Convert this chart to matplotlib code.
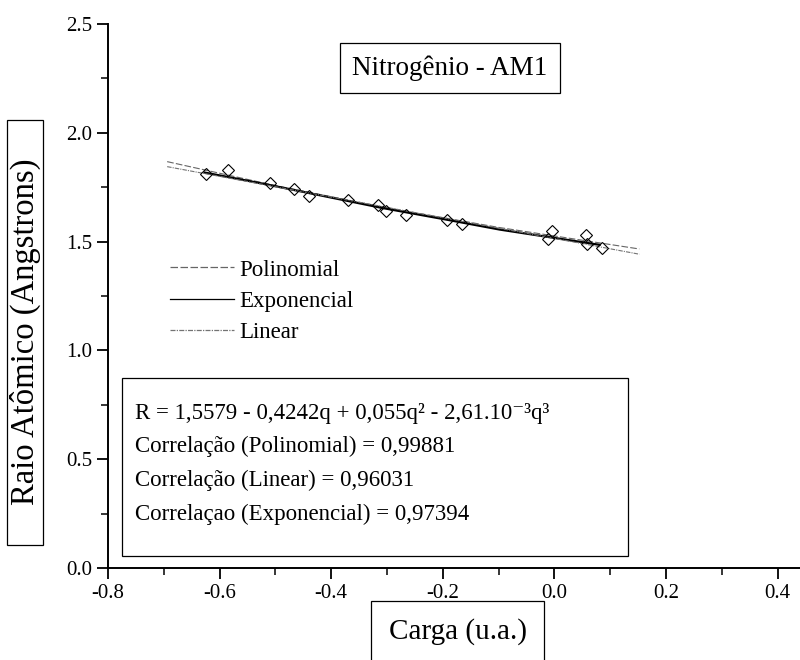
import numpy as np
import matplotlib.pyplot as plt
from matplotlib.ticker import MultipleLocator

plt.rcParams['font.family'] = ['Liberation Serif', 'DejaVu Serif']

# measured points (charge, atomic radius)
carga = [-0.624, -0.585, -0.510, -0.467, -0.440, -0.370, -0.317, -0.302,
         -0.266, -0.192, -0.165, -0.012, -0.005, 0.056, 0.058, 0.085]
raio = [1.81, 1.83, 1.77, 1.74, 1.71, 1.69, 1.67, 1.64,
        1.62, 1.60, 1.58, 1.51, 1.55, 1.53, 1.49, 1.47]

# fitted curves
x_poli = [-0.694, -0.50, -0.30, -0.10, 0.152]
y_poli = [1.867, 1.757, 1.655, 1.565, 1.466]
x_lin = [-0.694, 0.152]
y_lin = [1.844, 1.442]
x_exp = [-0.627, -0.519, -0.31, -0.192, -0.098, 0.081]
y_exp = [1.817, 1.764, 1.655, 1.600, 1.555, 1.485]

texto = ["R = 1,5579 - 0,4242q + 0,055q² - 2,61.10⁻³q³",
         "Correlação (Polinomial) = 0,99881",
         "Correlação (Linear) = 0,96031",
         "Correlaçao (Exponencial) = 0,97394"]

fig = plt.figure(figsize=(8, 6.6), dpi=100)
ax = fig.add_axes([0.135, 0.139, 0.865, 0.825])

ax.plot(x_poli, y_poli, color='0.4', lw=0.8, ls=(0, (6, 2)), label='Polinomial')
ax.plot(x_exp, y_exp, color='black', lw=1.6, label='Exponencial')
ax.plot(x_lin, y_lin, color='0.45', lw=0.8, ls=(0, (4, 1, 1, 1)), label='Linear')
ax.plot(carga, raio, 'D', ms=6.5, mfc='none', mec='black', mew=0.8)

ax.set_xlim(-0.8, 0.44)
ax.set_ylim(0, 2.5)
ax.xaxis.set_minor_locator(MultipleLocator(0.1))
ax.yaxis.set_minor_locator(MultipleLocator(0.25))
ax.set_xticks(np.arange(-0.8, 0.41, 0.2))
ax.set_xticklabels(['-0.8', '-0.6', '-0.4', '-0.2', '0.0', '0.2', '0.4'])
ax.set_yticks(np.arange(0, 2.51, 0.5))
ax.set_yticklabels(['0.0', '0.5', '1.0', '1.5', '2.0', '2.5'])
ax.tick_params(which='major', direction='out', length=8, width=1.3, labelsize=15)
ax.tick_params(which='minor', direction='out', length=5, width=1.1)
ax.spines['top'].set_visible(False)
ax.spines['right'].set_visible(False)
ax.spines['left'].set_linewidth(1.4)
ax.spines['bottom'].set_linewidth(1.4)

leg = ax.legend(loc='upper left', bbox_to_anchor=(0.06, 0.605), frameon=False,
                fontsize=16.5, handlelength=2.8, handletextpad=0.2,
                labelspacing=0.45)
for h in leg.get_lines():
    h.set_linewidth(0.9)

# title box
fig.text(0.5625, 1 - 68 / 660, 'Nitrogênio - AM1', fontsize=19.5, ha='center',
         va='center',
         bbox=dict(boxstyle='square,pad=0.45', fc='white', ec='black', lw=0.9))

# equation box
fig.patches.append(plt.Rectangle((0.1525, 1 - 556 / 660), 0.633, 178 / 660,
                                 transform=fig.transFigure, fill=False,
                                 ec='black', lw=0.9))
for i, t in enumerate(texto):
    fig.text(0.169, 1 - (413 + 33.7 * i) / 660, t, fontsize=16.5,
             ha='left', va='center')

# y label with its own (taller) box
fig.patches.append(plt.Rectangle((7 / 800, 1 - 545 / 660), 36 / 800, 425 / 660,
                                 transform=fig.transFigure, fill=False,
                                 ec='black', lw=0.9))
fig.text(25 / 800, 1 - 332 / 660, 'Raio Atômico (Angstrons)', fontsize=23.5,
         rotation=90, ha='center', va='center')
fig.text(0.572, 1 - 632 / 660, 'Carga (u.a.)', fontsize=21, ha='center',
         va='center',
         bbox=dict(boxstyle='square,pad=0.6', fc='white', ec='black', lw=0.9))

fig.savefig('out.png', dpi=100)
